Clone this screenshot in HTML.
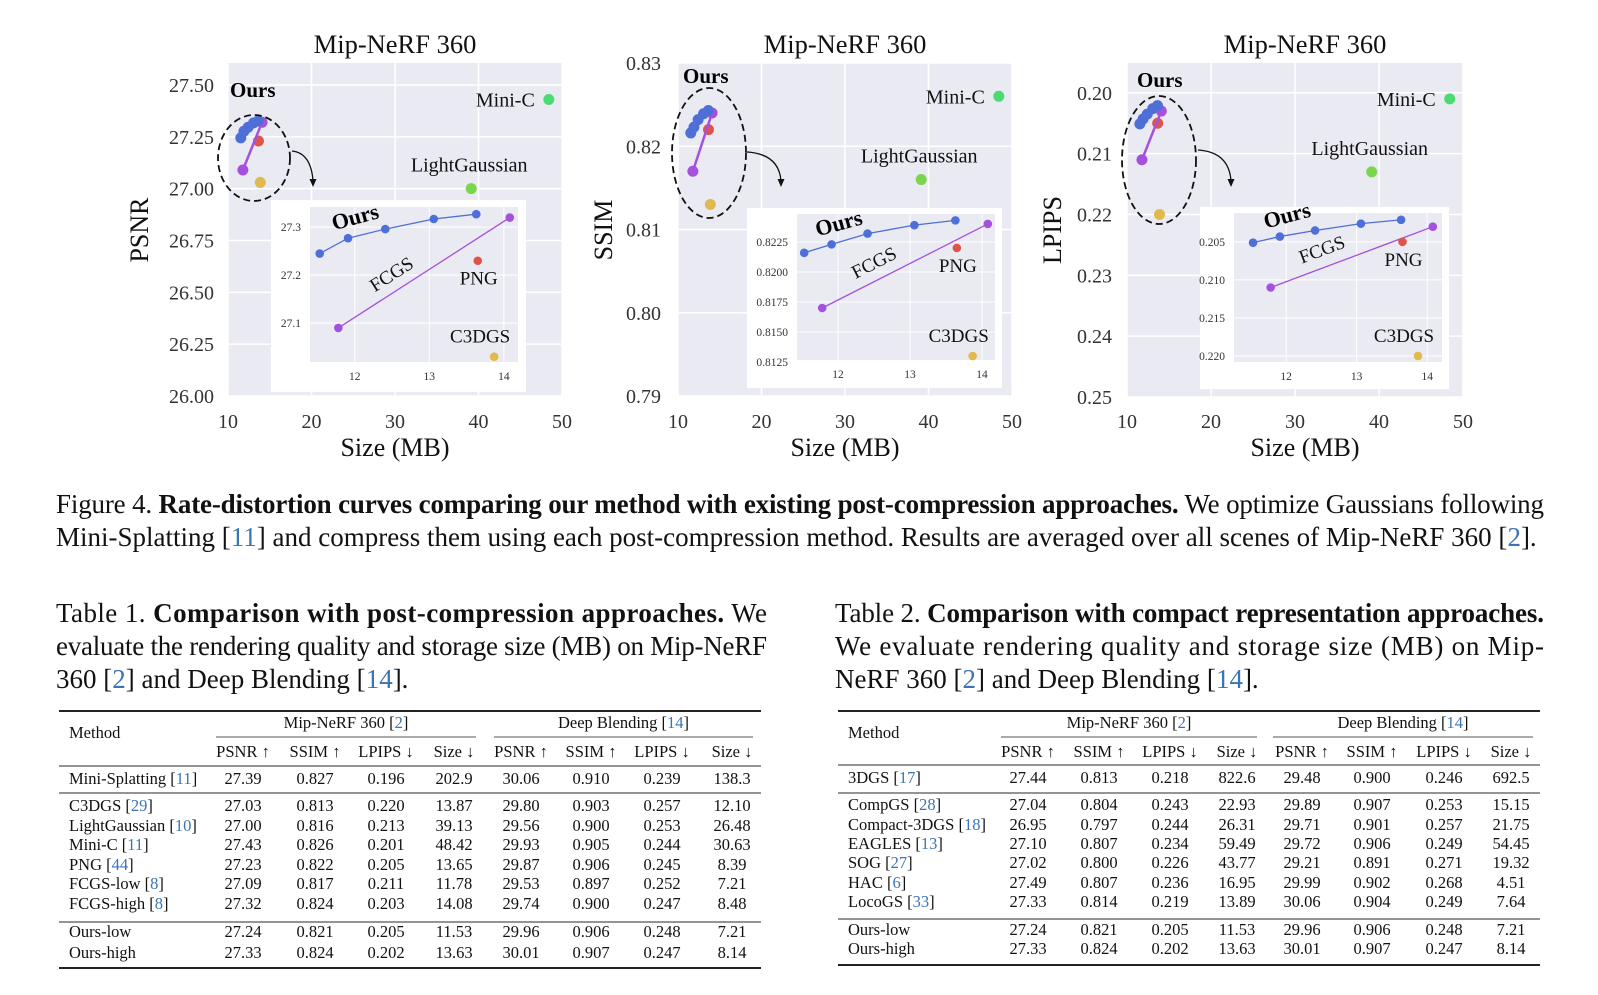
<!DOCTYPE html>
<html><head><meta charset="utf-8">
<style>
html,body{margin:0;padding:0;background:#fff;}
svg{display:block;font-family:"Liberation Serif","Times New Roman",serif;}
</style></head>
<body>
<svg id="page" width="1598" height="995" viewBox="0 0 1598 995" xmlns="http://www.w3.org/2000/svg"></svg>
<script>
// ---------- chart data ----------
const oursSize = [11.53, 11.91, 12.41, 13.06, 13.63];
const oursPsnr = [27.245, 27.277, 27.296, 27.317, 27.327];
const oursSsim = [0.8216, 0.8223, 0.8232, 0.8239, 0.8243];
const oursLpips = [0.2051, 0.2043, 0.2035, 0.2026, 0.2021];
const fcgsSize = [11.78, 14.08];
const fcgsPsnr = [27.09, 27.32];
const fcgsSsim = [0.817, 0.824];
const fcgsLpips = [0.211, 0.203];
const otherNames = ["C3DGS", "LightGaussian", "Mini-C", "PNG"];
const otherSize = [13.87, 39.13, 48.42, 13.65];
const otherPsnr = [27.03, 27.00, 27.43, 27.23];
const otherSsim = [0.813, 0.816, 0.826, 0.822];
const otherLpips = [0.220, 0.213, 0.201, 0.205];
const xTicks = [10, 20, 30, 40, 50];
const insetXTicks = [12, 13, 14];
const psnrTicks = [26.00, 26.25, 26.50, 26.75, 27.00, 27.25, 27.50];
const ssimTicks = [0.79, 0.80, 0.81, 0.82, 0.83];
const lpipsTicks = [0.20, 0.21, 0.22, 0.23, 0.24, 0.25];
const psnrInsetTicks = [27.1, 27.2, 27.3];
const ssimInsetTicks = [0.8125, 0.8150, 0.8175, 0.8200, 0.8225];
const lpipsInsetTicks = [0.205, 0.210, 0.215, 0.220];

const NS = "http://www.w3.org/2000/svg";
const svg = document.getElementById("page");
const COL = {ours:"#4f6fd8", fcgs:"#a452de", "PNG":"#df5449", "C3DGS":"#e1ba4e", "Mini-C":"#4cdb72", "LightGaussian":"#7ad64c"};

function mk(tag, attrs, parent, text) {
  const e = document.createElementNS(NS, tag);
  for (const k in attrs) e.setAttribute(k, attrs[k]);
  if (text !== undefined) e.textContent = text;
  (parent || svg).appendChild(e);
  return e;
}
function lin(d0, d1, r0, r1) { return v => r0 + (v - d0) * (r1 - r0) / (d1 - d0); }

const charts = [
  {key:"psnr", label:"PSNR", ys:oursPsnr, fy:fcgsPsnr, oy:otherPsnr, ticks:psnrTicks, fmt:v=>v.toFixed(2),
   px:[228,562], py:[63,396], yd:[27.606,26.0], labelX:140, tickEnd:214,
   box:[271,200,526,392], ip:[310,207,518,362], ixd:[11.40,14.19], iyd:[27.342,27.019], iticks:psnrInsetTicks, ifmt:v=>v.toFixed(1),
   ell:[254,158,36,43], arrow:[292,151,313,187], oursLbl:[230,97], cx:395},
  {key:"ssim", label:"SSIM", ys:oursSsim, fy:fcgsSsim, oy:otherSsim, ticks:ssimTicks, fmt:v=>v.toFixed(2),
   px:[678,1012], py:[63,396], yd:[0.83,0.79], labelX:604, tickEnd:661,
   box:[747,208,1002,388], ip:[797,214,995,360], ixd:[11.43,14.18], iyd:[0.82483,0.81267], iticks:ssimInsetTicks, ifmt:v=>v.toFixed(4),
   ell:[709,153,37,65], arrow:[747,152,781,187], oursLbl:[683,83], cx:845},
  {key:"lpips", label:"LPIPS", ys:oursLpips, fy:fcgsLpips, oy:otherLpips, ticks:lpipsTicks, fmt:v=>v.toFixed(2),
   px:[1127,1463], py:[63,397], yd:[0.1951,0.25], labelX:1053, tickEnd:1112,
   box:[1200,207,1449,389], ip:[1234,213,1442,362], ixd:[11.26,14.21], iyd:[0.2012,0.2208], iticks:lpipsInsetTicks, ifmt:v=>v.toFixed(3),
   ell:[1159,160,37,64], arrow:[1198,150,1231,187], oursLbl:[1137,87], cx:1305}
];

charts.forEach(c => {
  const g = mk("g", {});
  
  
  const X = lin(10, 50, c.px[0], c.px[1]);
  const Y = lin(c.yd[0], c.yd[1], c.py[0], c.py[1]);
  const bg = mk("rect", {x:c.px[0], y:c.py[0], width:c.px[1]-c.px[0], height:c.py[1]-c.py[0], fill:"#eaeaf2"}, g);
  
  
  xTicks.forEach(t => {
    const gl = mk("line", {x1:X(t), x2:X(t), y1:c.py[0], y2:c.py[1], stroke:"#fff", "stroke-width":1.5}, g);
    
    
    const tl = mk("text", {x:X(t), y:428, "font-size":20, "text-anchor":"middle", fill:"#333"}, g, String(t));
    
    
  });
  c.ticks.forEach(t => {
    const gl = mk("line", {x1:c.px[0], x2:c.px[1], y1:Y(t), y2:Y(t), stroke:"#fff", "stroke-width":1.5}, g);
    
    
    const tl = mk("text", {x:c.tickEnd, y:Y(t)+7, "font-size":20, "text-anchor":"end", fill:"#333"}, g, c.fmt(t));
    
    
  });
  const title = mk("text", {x:c.cx, y:53, "font-size":26.5, "text-anchor":"middle", fill:"#111"}, g, "Mip-NeRF 360");
  
  
  const xl = mk("text", {x:c.cx, y:456, "font-size":26, "text-anchor":"middle", fill:"#111"}, g, "Size (MB)");
  
  
  const yl = mk("text", {x:c.labelX, y:230, "font-size":26, "text-anchor":"middle", fill:"#111", transform:`rotate(-90 ${c.labelX} 230)`, dy:8}, g, c.label);
  
  

  otherNames.forEach((n, i) => {
    const p = mk("circle", {cx:X(otherSize[i]), cy:Y(c.oy[i]), r:5.5, fill:COL[n]}, g);
    
    
  });
  const mi = otherNames.indexOf("Mini-C");
  const ml = mk("text", {x:X(otherSize[mi])-14, y:Y(c.oy[mi])+7, "font-size":20, "text-anchor":"end", fill:"#111"}, g, "Mini-C");
  
  
  const li = otherNames.indexOf("LightGaussian");
  const ll = mk("text", {x:X(otherSize[li])-2, y:Y(c.oy[li])-17, "font-size":20, "text-anchor":"middle", fill:"#111"}, g, "LightGaussian");
  
  

  const fl = mk("polyline", {points:fcgsSize.map((s,i)=>X(s)+","+Y(c.fy[i])).join(" "), fill:"none", stroke:COL.fcgs, "stroke-width":2.5}, g);
  
  
  fcgsSize.forEach((s,i) => {
    const p = mk("circle", {cx:X(s), cy:Y(c.fy[i]), r:5.5, fill:COL.fcgs}, g);
    
    
  });
  const ol = mk("polyline", {points:oursSize.map((s,i)=>X(s)+","+Y(c.ys[i])).join(" "), fill:"none", stroke:COL.ours, "stroke-width":4}, g);
  
  
  oursSize.forEach((s,i) => {
    const p = mk("circle", {cx:X(s), cy:Y(c.ys[i]), r:5.5, fill:COL.ours}, g);
    
    
  });
  const ot = mk("text", {x:c.oursLbl[0], y:c.oursLbl[1], "font-size":21, "font-weight":"bold", fill:"#000"}, g, "Ours");
  
  
  const el = mk("ellipse", {cx:c.ell[0], cy:c.ell[1], rx:c.ell[2], ry:c.ell[3], fill:"none", stroke:"#111", "stroke-width":1.8, "stroke-dasharray":"7 4"}, g);
  
  
  const a = c.arrow;
  const ar = mk("path", {d:`M${a[0]},${a[1]} Q${a[2]-2},${a[1]+2} ${a[2]},${a[3]-6}`, fill:"none", stroke:"#111", "stroke-width":1.3}, g);
  
  
  const ah = mk("path", {d:`M${a[2]-3.5},${a[3]-8} L${a[2]},${a[3]} L${a[2]+3.5},${a[3]-8} Z`, fill:"#111"}, g);
  
  

  const ig = mk("g", {}, g);
  
  
  const b = c.box, ip = c.ip;
  const wb = mk("rect", {x:b[0], y:b[1], width:b[2]-b[0], height:b[3]-b[1], fill:"#fff"}, ig);
  
  
  const ib = mk("rect", {x:ip[0], y:ip[1], width:ip[2]-ip[0], height:ip[3]-ip[1], fill:"#eaeaf2"}, ig);
  
  
  const IX = lin(c.ixd[0], c.ixd[1], ip[0], ip[2]);
  const IY = lin(c.iyd[0], c.iyd[1], ip[1], ip[3]);
  insetXTicks.forEach(t => {
    const gl = mk("line", {x1:IX(t), x2:IX(t), y1:ip[1], y2:ip[3], stroke:"#fff", "stroke-width":1}, ig);
    
    
    const tl = mk("text", {x:IX(t), y:ip[3]+18, "font-size":11.5, "text-anchor":"middle", fill:"#333"}, ig, String(t));
    
    
  });
  c.iticks.forEach(t => {
    const gl = mk("line", {x1:ip[0], x2:ip[2], y1:IY(t), y2:IY(t), stroke:"#fff", "stroke-width":1}, ig);
    
    
    const tl = mk("text", {x:ip[0]-9, y:IY(t)+4, "font-size":11.5, "text-anchor":"end", fill:"#333"}, ig, c.ifmt(t));
    
    
  });
  const ifl = mk("polyline", {points:fcgsSize.map((s,i)=>IX(s)+","+IY(c.fy[i])).join(" "), fill:"none", stroke:COL.fcgs, "stroke-width":1.3}, ig);
  
  
  fcgsSize.forEach((s,i) => {
    const p = mk("circle", {cx:IX(s), cy:IY(c.fy[i]), r:4.3, fill:COL.fcgs}, ig);
    
    
  });
  const iol = mk("polyline", {points:oursSize.map((s,i)=>IX(s)+","+IY(c.ys[i])).join(" "), fill:"none", stroke:COL.ours, "stroke-width":1.3}, ig);
  
  
  oursSize.forEach((s,i) => {
    const p = mk("circle", {cx:IX(s), cy:IY(c.ys[i]), r:4.3, fill:COL.ours}, ig);
    
    
  });
  ["PNG","C3DGS"].forEach(n => {
    const i = otherNames.indexOf(n);
    const p = mk("circle", {cx:IX(otherSize[i]), cy:IY(c.oy[i]), r:4.3, fill:COL[n]}, ig);
    
    
  });
  const pi = otherNames.indexOf("PNG"), ci = otherNames.indexOf("C3DGS");
  const pl = mk("text", {x:IX(otherSize[pi])+1, y:IY(c.oy[pi])+24, "font-size":19, "text-anchor":"middle", fill:"#111"}, ig, "PNG");
  
  
  const cl = mk("text", {x:IX(otherSize[ci])-14, y:IY(c.oy[ci])-14, "font-size":19, "text-anchor":"middle", fill:"#111"}, ig, "C3DGS");
  
  
  const fx0 = IX(fcgsSize[0]), fy0 = IY(c.fy[0]), fx1 = IX(fcgsSize[1]), fy1 = IY(c.fy[1]);
  const ang = Math.atan2(fy1 - fy0, fx1 - fx0) * 180 / Math.PI;
  const mx = fx0 + (fx1 - fx0) * 0.33, my = fy0 + (fy1 - fy0) * 0.33 - 12;
  const fcl = mk("text", {x:mx, y:my, "font-size":19, "text-anchor":"middle", fill:"#111", transform:`rotate(${ang} ${mx} ${my})`}, ig, "FCGS");
  
  
  const ox = IX(oursSize[1]) - 14, oy = IY(c.ys[1]) - 8;
  const iot = mk("text", {x:ox, y:oy, "font-size":22, "font-weight":"bold", fill:"#000", transform:`rotate(-15 ${ox} ${oy})`}, ig, "Ours");
  
  
});

// ---------- captions ----------
const BLUE = "#3b74b4";
function para(lines, name) {
  const g = mk("g", {});
  
  
  lines.forEach(L => {
    const attrs = {x:L.x, y:L.y, "font-size":27, fill:"#111"};
    if (L.w) { attrs.textLength = L.w; attrs.lengthAdjust = "spacing"; }
    const t = mk("text", attrs, g);
    
    
    L.parts.forEach(p => {
      const s = mk("tspan", {}, t, p[0]);
      if (p[1] === "b") s.setAttribute("font-weight", "bold");
      if (p[1] === "c") s.setAttribute("fill", BLUE);
    });
  });
}
para([
  {x:56, y:513, w:1488, parts:[["Figure 4. "],["Rate-distortion curves comparing our method with existing post-compression approaches.","b"],[" We optimize Gaussians following"]]},
  {x:56, y:546, parts:[["Mini-Splatting ["],["11","c"],["] and compress them using each post-compression method. Results are averaged over all scenes of Mip-NeRF 360 ["],["2","c"],["]."]]}
], "figure-caption");
para([
  {x:56, y:622, w:711, parts:[["Table 1. "],["Comparison with post-compression approaches.","b"],[" We"]]},
  {x:56, y:655, w:711, parts:[["evaluate the rendering quality and storage size (MB) on Mip-NeRF"]]},
  {x:56, y:688, parts:[["360 ["],["2","c"],["] and Deep Blending ["],["14","c"],["]."]]}
], "table1-caption");
para([
  {x:835, y:622, w:709, parts:[["Table 2. "],["Comparison with compact representation approaches.","b"]]},
  {x:835, y:655, w:709, parts:[["We evaluate rendering quality and storage size (MB) on Mip-"]]},
  {x:835, y:688, parts:[["NeRF 360 ["],["2","c"],["] and Deep Blending ["],["14","c"],["]."]]}
], "table2-caption");

// ---------- tables ----------
const t1Rows = [
  [["Mini-Splatting ","11"],"27.39","0.827","0.196","202.9","30.06","0.910","0.239","138.3"],
  [["C3DGS ","29"],"27.03","0.813","0.220","13.87","29.80","0.903","0.257","12.10"],
  [["LightGaussian ","10"],"27.00","0.816","0.213","39.13","29.56","0.900","0.253","26.48"],
  [["Mini-C ","11"],"27.43","0.826","0.201","48.42","29.93","0.905","0.244","30.63"],
  [["PNG ","44"],"27.23","0.822","0.205","13.65","29.87","0.906","0.245","8.39"],
  [["FCGS-low ","8"],"27.09","0.817","0.211","11.78","29.53","0.897","0.252","7.21"],
  [["FCGS-high ","8"],"27.32","0.824","0.203","14.08","29.74","0.900","0.247","8.48"],
  [["Ours-low"],"27.24","0.821","0.205","11.53","29.96","0.906","0.248","7.21"],
  [["Ours-high"],"27.33","0.824","0.202","13.63","30.01","0.907","0.247","8.14"]
];
const t2Rows = [
  [["3DGS ","17"],"27.44","0.813","0.218","822.6","29.48","0.900","0.246","692.5"],
  [["CompGS ","28"],"27.04","0.804","0.243","22.93","29.89","0.907","0.253","15.15"],
  [["Compact-3DGS ","18"],"26.95","0.797","0.244","26.31","29.71","0.901","0.257","21.75"],
  [["EAGLES ","13"],"27.10","0.807","0.234","59.49","29.72","0.906","0.249","54.45"],
  [["SOG ","27"],"27.02","0.800","0.226","43.77","29.21","0.891","0.271","19.32"],
  [["HAC ","6"],"27.49","0.807","0.236","16.95","29.99","0.902","0.268","4.51"],
  [["LocoGS ","33"],"27.33","0.814","0.219","13.89","30.06","0.904","0.249","7.64"],
  [["Ours-low"],"27.24","0.821","0.205","11.53","29.96","0.906","0.248","7.21"],
  [["Ours-high"],"27.33","0.824","0.202","13.63","30.01","0.907","0.247","8.14"]
];
const colHeads = ["PSNR ↑","SSIM ↑","LPIPS ↓","Size ↓","PSNR ↑","SSIM ↑","LPIPS ↓","Size ↓"];

function table(cfg, rows, name) {
  const g = mk("g", {"font-size":16.5, fill:"#111"});
  
  
  const hl = (y, w, x0, x1, col) => {
    const l = mk("line", {x1:x0 ?? cfg.x0, x2:x1 ?? cfg.x1, y1:y, y2:y, stroke:col || "#222", "stroke-width":w}, g);
    
    
  };
  hl(cfg.top, 2); hl(cfg.hdrRule, 1.2, undefined, undefined, "#555"); hl(cfg.r1, 1.2, undefined, undefined, "#555"); hl(cfg.r2, 1.2, undefined, undefined, "#555"); hl(cfg.bottom, 2);
  hl(cfg.grpLine, 1, cfg.grp[0][0], cfg.grp[0][1], "#555"); hl(cfg.grpLine, 1, cfg.grp[1][0], cfg.grp[1][1], "#555");
  const m = mk("text", {x:cfg.mx, y:cfg.top+27}, g, "Method");
  
  
  [["Mip-NeRF 360 [","2","]"],["Deep Blending [","14","]"]].forEach((h, i) => {
    const t = mk("text", {x:(cfg.grp[i][0]+cfg.grp[i][1])/2, y:cfg.top+17, "text-anchor":"middle"}, g);
    
    
    mk("tspan", {}, t, h[0]); mk("tspan", {fill:BLUE}, t, h[1]); mk("tspan", {}, t, h[2]);
  });
  colHeads.forEach((h, i) => {
    const t = mk("text", {x:cfg.cols[i], y:cfg.top+46, "text-anchor":"middle"}, g, h);
    
    
  });
  rows.forEach((r, ri) => {
    const y = cfg.rowY[ri];
    const t = mk("text", {x:cfg.mx, y:y}, g);
    
    
    mk("tspan", {}, t, r[0][0]);
    if (r[0][1]) { mk("tspan", {}, t, "["); mk("tspan", {fill:BLUE}, t, r[0][1]); mk("tspan", {}, t, "]"); }
    for (let i = 1; i < r.length; i++) {
      const c = mk("text", {x:cfg.cols[i-1], y:y, "text-anchor":"middle"}, g, r[i]);
      
      
    }
  });
}
table({x0:59, x1:761, top:711, grpLine:737, hdrRule:766, r1:793, r2:922, bottom:968, mx:69,
  grp:[[216,476],[494,753]], cols:[243,315,386,454,521,591,662,732],
  rowY:[784,811,831,850,870,889,909,937,958]}, t1Rows, "table1");
table({x0:838, x1:1540, top:711, grpLine:737, hdrRule:765, r1:793, r2:919, bottom:965, mx:848,
  grp:[[1001,1257],[1273,1533]], cols:[1028,1099,1170,1237,1302,1372,1444,1511],
  rowY:[783,810,830,849,868,888,907,935,954]}, t2Rows, "table2");
</script>
</body></html>
